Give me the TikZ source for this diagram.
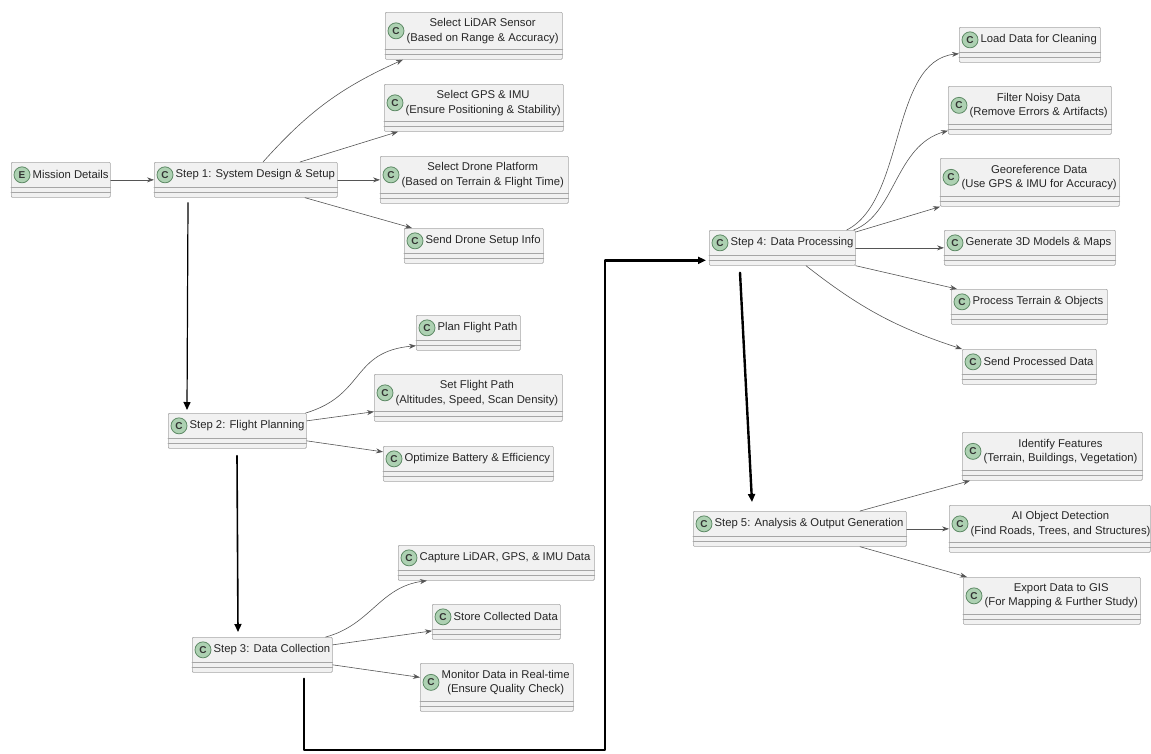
\documentclass[tikz,border=0pt]{standalone}
\usepackage{fontspec}
\setmainfont{Liberation Sans}
\usetikzlibrary{arrows.meta}
\usetikzlibrary{positioning}

\definecolor{boxfill}{HTML}{F1F1F1}
\definecolor{boxline}{HTML}{A6A6A6}
\definecolor{iconfill}{HTML}{ADD1B2}
\definecolor{iconline}{HTML}{5E8A66}
\definecolor{flowline}{HTML}{555555}

\tikzset{
  umlbox/.style={draw=boxline,fill=boxfill,line width=0.7pt,rounded corners=1pt,anchor=north west,inner sep=0pt},
  cicon/.style={circle,draw=iconline,fill=iconfill,line width=0.8pt,minimum size=16pt,inner sep=0pt,
    font=\fontsize{10}{10}\selectfont\bfseries,text=black!80},
  lbl/.style={inner sep=0pt,align=center,font=\fontsize{11.3}{14.5}\selectfont,text=black!85},
  sep/.style={draw=boxline,line width=0.6pt},
  flow/.style={-{Stealth[length=7pt,width=5pt]},draw=flowline,line width=0.6pt},
  stepflow/.style={-{Triangle[length=8pt,width=7pt]},draw=black,line width=#1}
}

\begin{document}
\begin{tikzpicture}[line cap=round,line join=round,x=1pt,y=-1pt]
\useasboundingbox (0,0) rectangle (1151,753);

% step 1
\node[umlbox,minimum width=99,minimum height=35] (mission) at (11,162) {};
\node[cicon] (missionc) at ([xshift=11pt,yshift=5pt]mission.west) {E};
\node[lbl,right=2pt of missionc] (missiont) {Mission Details};
\node[umlbox,minimum width=183,minimum height=35] (step1) at (154,162) {};
\node[cicon] (step1c) at ([xshift=11pt,yshift=5pt]step1.west) {C};
\node[lbl,right=2pt of step1c] (step1t) {Step 1: System Design \& Setup};
\node[umlbox,minimum width=177,minimum height=47] (lidar) at (385,12) {};
\node[cicon] (lidarc) at ([xshift=11pt,yshift=5pt]lidar.west) {C};
\node[lbl,right=2pt of lidarc] (lidart) {Select LiDAR Sensor\\(Based on Range \& Accuracy)};
\node[umlbox,minimum width=179,minimum height=47] (gps) at (384,84) {};
\node[cicon] (gpsc) at ([xshift=11pt,yshift=5pt]gps.west) {C};
\node[lbl,right=2pt of gpsc] (gpst) {Select GPS \& IMU\\(Ensure Positioning \& Stability)};
\node[umlbox,minimum width=188,minimum height=47] (drone) at (380,156) {};
\node[cicon] (dronec) at ([xshift=11pt,yshift=5pt]drone.west) {C};
\node[lbl,right=2pt of dronec] (dronet) {Select Drone Platform\\(Based on Terrain \& Flight Time)};
\node[umlbox,minimum width=139,minimum height=35] (setup) at (404,228) {};
\node[cicon] (setupc) at ([xshift=11pt,yshift=5pt]setup.west) {C};
\node[lbl,right=2pt of setupc] (setupt) {Send Drone Setup Info};

% step 2
\node[umlbox,minimum width=138,minimum height=35] (step2) at (168,413) {};
\node[cicon] (step2c) at ([xshift=11pt,yshift=5pt]step2.west) {C};
\node[lbl,right=2pt of step2c] (step2t) {Step 2: Flight Planning};
\node[umlbox,minimum width=104,minimum height=35] (plan) at (416,315) {};
\node[cicon] (planc) at ([xshift=11pt,yshift=5pt]plan.west) {C};
\node[lbl,right=2pt of planc] (plant) {Plan Flight Path};
\node[umlbox,minimum width=188,minimum height=47] (setpath) at (374,374) {};
\node[cicon] (setpathc) at ([xshift=11pt,yshift=5pt]setpath.west) {C};
\node[lbl,right=2pt of setpathc] (setpatht) {Set Flight Path\\(Altitudes, Speed, Scan Density)};
\node[umlbox,minimum width=170,minimum height=35] (battery) at (383,446) {};
\node[cicon] (batteryc) at ([xshift=11pt,yshift=5pt]battery.west) {C};
\node[lbl,right=2pt of batteryc] (batteryt) {Optimize Battery \& Efficiency};

% step 3
\node[umlbox,minimum width=140,minimum height=35] (step3) at (192,637) {};
\node[cicon] (step3c) at ([xshift=11pt,yshift=5pt]step3.west) {C};
\node[lbl,right=2pt of step3c] (step3t) {Step 3: Data Collection};
\node[umlbox,minimum width=196,minimum height=35] (capture) at (398,545) {};
\node[cicon] (capturec) at ([xshift=11pt,yshift=5pt]capture.west) {C};
\node[lbl,right=2pt of capturec] (capturet) {Capture LiDAR, GPS, \& IMU Data};
\node[umlbox,minimum width=128,minimum height=35] (store) at (432,604) {};
\node[cicon] (storec) at ([xshift=11pt,yshift=5pt]store.west) {C};
\node[lbl,right=2pt of storec] (storet) {Store Collected Data};
\node[umlbox,minimum width=153,minimum height=48] (monitor) at (420,663) {};
\node[cicon] (monitorc) at ([xshift=11pt,yshift=5pt]monitor.west) {C};
\node[lbl,right=2pt of monitorc] (monitort) {Monitor Data in Real-time\\(Ensure Quality Check)};

% step 4
\node[umlbox,minimum width=146,minimum height=35] (step4) at (709,230) {};
\node[cicon] (step4c) at ([xshift=11pt,yshift=5pt]step4.west) {C};
\node[lbl,right=2pt of step4c] (step4t) {Step 4: Data Processing};
\node[umlbox,minimum width=141,minimum height=35] (load) at (959,27) {};
\node[cicon] (loadc) at ([xshift=11pt,yshift=5pt]load.west) {C};
\node[lbl,right=2pt of loadc] (loadt) {Load Data for Cleaning};
\node[umlbox,minimum width=163,minimum height=48] (filter) at (948,86) {};
\node[cicon] (filterc) at ([xshift=11pt,yshift=5pt]filter.west) {C};
\node[lbl,right=2pt of filterc] (filtert) {Filter Noisy Data\\(Remove Errors \& Artifacts)};
\node[umlbox,minimum width=179,minimum height=48] (georef) at (940,158) {};
\node[cicon] (georefc) at ([xshift=11pt,yshift=5pt]georef.west) {C};
\node[lbl,right=2pt of georefc] (georeft) {Georeference Data\\(Use GPS \& IMU for Accuracy)};
\node[umlbox,minimum width=171,minimum height=35] (models) at (944,230) {};
\node[cicon] (modelsc) at ([xshift=11pt,yshift=5pt]models.west) {C};
\node[lbl,right=2pt of modelsc] (modelst) {Generate 3D Models \& Maps};
\node[umlbox,minimum width=156,minimum height=35] (terrain) at (951,289) {};
\node[cicon] (terrainc) at ([xshift=11pt,yshift=5pt]terrain.west) {C};
\node[lbl,right=2pt of terrainc] (terraint) {Process Terrain \& Objects};
\node[umlbox,minimum width=134,minimum height=35] (sendproc) at (962,349) {};
\node[cicon] (sendprocc) at ([xshift=11pt,yshift=5pt]sendproc.west) {C};
\node[lbl,right=2pt of sendprocc] (sendproct) {Send Processed Data};

% step 5
\node[umlbox,minimum width=213,minimum height=35] (step5) at (693,511) {};
\node[cicon] (step5c) at ([xshift=11pt,yshift=5pt]step5.west) {C};
\node[lbl,right=2pt of step5c] (step5t) {Step 5: Analysis \& Output Generation};
\node[umlbox,minimum width=180,minimum height=48] (features) at (962,432) {};
\node[cicon] (featuresc) at ([xshift=11pt,yshift=5pt]features.west) {C};
\node[lbl,right=2pt of featuresc] (featurest) {Identify Features\\(Terrain, Buildings, Vegetation)};
\node[umlbox,minimum width=201,minimum height=47] (aidetect) at (949,505) {};
\node[cicon] (aidetectc) at ([xshift=11pt,yshift=5pt]aidetect.west) {C};
\node[lbl,right=2pt of aidetectc] (aidetectt) {AI Object Detection\\(Find Roads, Trees, and Structures)};
\node[umlbox,minimum width=177,minimum height=47] (export) at (963,577) {};
\node[cicon] (exportc) at ([xshift=11pt,yshift=5pt]export.west) {C};
\node[lbl,right=2pt of exportc] (exportt) {Export Data to GIS\\(For Mapping \& Further Study)};

% empty compartments
\foreach \b in {mission,step1,lidar,gps,drone,setup,step2,plan,setpath,battery,step3,capture,store,monitor,
  step4,load,filter,georef,models,terrain,sendproc,step5,features,aidetect,export}{
  \draw[sep] ([yshift=10pt]\b.south west) -- ([yshift=10pt]\b.south east);
  \draw[sep] ([yshift=5pt]\b.south west) -- ([yshift=5pt]\b.south east);
}

\draw[flow] (mission) -- (step1);
\draw[flow] ([xshift=109pt]step1.north west) to[bend left=12] ([xshift=18pt]lidar.south west);
\draw[flow] ([xshift=146pt]step1.north west) -- ([xshift=14pt]gps.south west);
\draw[flow] (step1) -- (drone);
\draw[flow] ([xshift=151pt]step1.south west) -- ([xshift=8pt]setup.north west);
\draw[stepflow=1.2pt] ([xshift=34pt,yshift=-5pt]step1.south west) -- ([xshift=19pt,yshift=3pt]step2.north west);

\draw[flow] ([xshift=-1pt]step2.north east) .. controls +(60,-18) and +(-65,6) .. ([yshift=5pt]plan.south west);
\draw[flow] ([yshift=10pt]step2.east) -- ([yshift=10pt]setpath.south west);
\draw[flow] ([yshift=-10pt]step2.east) -- ([yshift=12pt]battery.west);
\draw[stepflow=1.6pt] ([xshift=69pt,yshift=-7pt]step2.south west) -- ([xshift=46pt,yshift=5pt]step3.north west);

\draw[flow] ([xshift=-7pt]step3.north east) .. controls +(45,-12) and +(-47,6) .. ([xshift=29pt]capture.south west);
\draw[flow] ([yshift=10pt]step3.east) -- ([yshift=-9pt]store.west);
\draw[flow] ([yshift=-10pt]step3.east) -- ([yshift=10pt]monitor.west);
\coordinate (lowturn) at (605,750);
\draw[stepflow=2.4pt] ([xshift=112pt,yshift=-6pt]step3.south west) |- (lowturn) |- ([xshift=-3pt,yshift=-12.5pt]step4.west);

\draw[flow] ([xshift=-9pt]step4.north east) .. controls +(59,-30) and +(-69,7) .. ([yshift=9pt]load.south west);
\draw[flow] ([xshift=-2pt]step4.north east) .. controls +(42,-16) and +(-53,15) .. ([yshift=4pt]filter.south west);
\draw[flow] ([yshift=-2pt]step4.north east) -- (georef.south west);
\draw[flow] (step4) -- (models);
\draw[flow] (step4.south east) -- ([xshift=6pt]terrain.north west);
\draw[flow] ([xshift=97pt]step4.south west) to[bend right=10] (sendproc.north west);
\draw[stepflow=2.4pt] ([xshift=31pt,yshift=-7pt]step4.south west) -- ([xshift=59pt,yshift=9pt]step5.north west);

\draw[flow] ([xshift=167pt]step5.north west) -- ([xshift=8pt]features.south west);
\draw[flow] (step5) -- (aidetect);
\draw[flow] ([xshift=167pt]step5.south west) -- ([xshift=4pt]export.north west);
\end{tikzpicture}
\end{document}
